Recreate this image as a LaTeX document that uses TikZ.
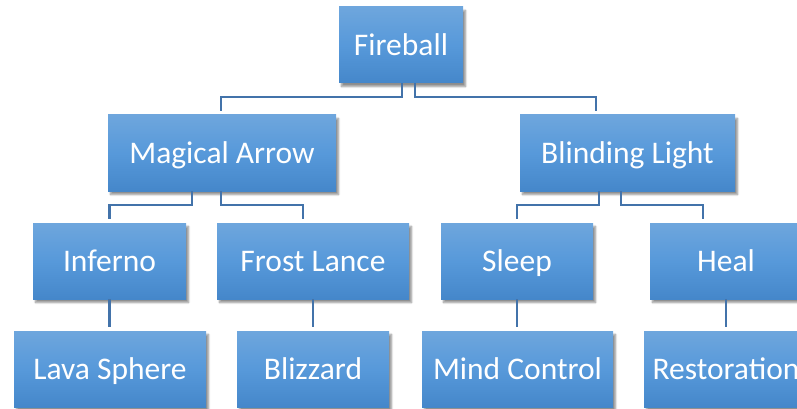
\documentclass[tikz,border=0pt]{standalone}
\usepackage{fontspec}
\setmainfont{Carlito}
\usetikzlibrary{shadows.blur}
\definecolor{btop}{HTML}{6EA6DD}
\definecolor{bmid}{HTML}{5799DA}
\definecolor{bbot}{HTML}{4587CA}
\definecolor{conncol}{HTML}{4373AA}
\tikzset{
  box/.style={rectangle, draw=none, top color=btop, bottom color=bbot, middle color=bmid,
    minimum height=76, inner sep=0pt, text=white, font=\fontsize{31.5}{37}\selectfont,
    text height=20.5pt, text depth=0pt,
    blur shadow={shadow xshift=2.5pt, shadow yshift=-3.5pt, shadow blur steps=8, shadow opacity=45}},
  conn/.style={draw=conncol, line width=2.2pt, shorten >=4}
}
\begin{document}
\begin{tikzpicture}[x=1pt,y=-1pt]
\useasboundingbox (0,0) rectangle (797,409);
\clip (0,0) rectangle (797,409);
\node[box, minimum width=124] (fire) at (401,45) {Fireball};
\node[box, minimum width=228] (magic) at (222,153) {Magical Arrow};
\node[box, minimum width=215] (blind) at (627.5,153) {Blinding Light};
\node[box, minimum width=153] (inferno) at (109.5,261) {Inferno};
\node[box, minimum width=192] (frost) at (313,261) {Frost Lance};
\node[box, minimum width=152] (sleep) at (517,261) {Sleep};
\node[box, minimum width=152] (heal) at (726,261) {Heal};
\node[box, minimum width=192] (lava) at (110,369) {Lava Sphere};
\node[box, minimum width=152] (blizz) at (313,369) {Blizzard};
\node[box, minimum width=191] (mind) at (517.5,369) {Mind Control};
\node[box, minimum width=164] (resto) at (726,369) {Restoration};
\draw[conn] ([xshift=1]fire.south) -- ++(0,14) -| ([xshift=-1]magic.north);
\draw[conn] ([xshift=14]fire.south) -- ++(0,14) -| ([xshift=-31.5]blind.north);
\draw[conn] ([xshift=-30]magic.south) -- ++(0,14) -| (inferno.north);
\draw[conn] ([xshift=-1]magic.south) -- ++(0,14) -| ([xshift=-10]frost.north);
\draw[conn] ([xshift=-28.5]blind.south) -- ++(0,14) -| (sleep.north);
\draw[conn] ([xshift=-6.5]blind.south) -- ++(0,14) -| ([xshift=-23]heal.north);
\draw[conn] (inferno.south) -- ([xshift=-0.5]lava.north);
\draw[conn] (frost.south) -- (blizz.north);
\draw[conn] (sleep.south) -- ([xshift=-0.5]mind.north);
\draw[conn] (heal.south) -- (resto.north);
\end{tikzpicture}
\end{document}
